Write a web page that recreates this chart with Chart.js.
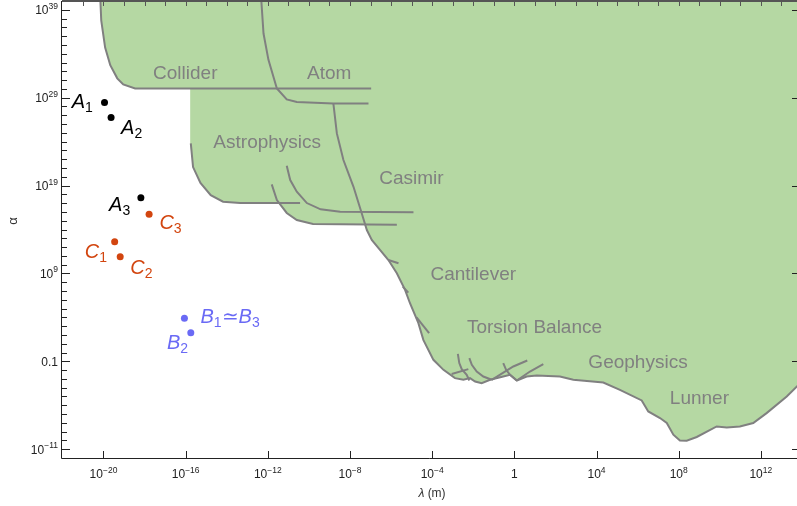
<!DOCTYPE html>
<html>
<head>
<meta charset="utf-8">
<title>Excluded region in the lambda-alpha plane</title>
<script src="https://cdn.jsdelivr.net/npm/chart.js@4.4.0/dist/chart.umd.min.js"></script>
<style>
    html, body { margin: 0; padding: 0; background: #fff; }
    #wrap { width: 797px; height: 506px; }
</style>
</head>
<body>
<div id="wrap"><canvas id="chart" width="797" height="506"></canvas></div>
<script>
// ---- model points (lambda in m, alpha) ----
const lambdaA = [1.12e-20, 2.34e-20, 6.6e-19];
const alphaA = [2.8e28, 5.6e26, 4.1e17];
const lambdaC = [3.5e-20, 6.5e-20, 1.66e-18];
const alphaC = [4.1e12, 8.1e10, 5.4e15];
const lambdaB = [8.7e-17, 1.78e-16];
const alphaB = [8.1e3, 174];

// ---- experimental bounds, pairs of [log10 lambda, log10 alpha] ----
const colliderCurve = [[-20.16, 40.5], [-20.11, 37.8], [-19.92, 34.7], [-19.67, 32.7], [-19.33, 31.2], [-19.04, 30.5], [-18.46, 30.05], [-6.97, 30.05]];
const atomCurve = [[-12.33, 40.5], [-12.21, 36.3], [-11.97, 33.3], [-11.56, 30.05], [-11.08, 28.8], [-10.59, 28.5], [-8.81, 28.34], [-7.1, 28.34]];
const astroCurve = [[-15.75, 23.8], [-15.64, 21.1], [-15.28, 19.3], [-14.78, 17.9], [-14.18, 17.16], [-13.35, 17.01], [-10.43, 17.01]];
const astroCurve2 = [[-11.81, 19.14], [-11.56, 17.35], [-11.08, 15.88], [-10.59, 15.08], [-9.8, 14.63], [-5.72, 14.55]];
const astroCurve3 = [[-11.08, 21.25], [-10.91, 19.63], [-10.59, 18.3], [-10.1, 17.01], [-9.43, 16.3], [-8.48, 16.02], [-4.91, 15.95]];
const mainCurve = [
    [-8.81, 28.34], [-8.64, 24.93], [-8.32, 21.9], [-7.83, 18.86], [-7.43, 15.84], [-7.18, 13.94], [-6.94, 12.81],
    [-6.54, 11.67], [-6.13, 10.53], [-5.72, 9.02], [-5.32, 7.13], [-5.08, 5.61], [-4.67, 3.34], [-4.43, 1.44],
    [-3.94, -0.83], [-3.45, -1.97], [-2.89, -2.91], [-2.48, -3.1], [-2.16, -2.91], [-1.91, -3.3], [-1.59, -3.48],
    [-1.18, -3.1], [-0.54, -2.73], [-0.21, -2.53], [0.12, -3.18], [0.6, -2.73], [1.09, -2.61], [2.22, -2.73],
    [2.87, -3.1], [4.33, -3.41], [5.14, -4.24], [6.2, -5.45], [6.52, -6.7], [7.09, -7.45], [7.42, -8.02],
    [7.74, -9.35], [8.06, -10.0], [8.39, -10.03], [8.88, -9.61], [9.85, -8.41], [10.34, -8.52], [10.98, -8.41],
    [11.63, -8.02], [12.28, -6.89], [13.26, -5.0], [14.2, -2.86]
];
const cantileverTicks = [
    [[-6.13, 10.53], [-5.64, 10.16]],
    [[-5.43, 7.5], [-5.16, 6.82]],
    [[-4.76, 4.0], [-4.15, 2.2]]
];
const torsionCurves = [
    [[-2.75, -0.15], [-2.68, -1.2], [-2.56, -1.89], [-2.32, -2.53], [-2.19, -3.18]],
    [[-3.05, -2.45], [-2.24, -1.89]],
    [[-2.19, -0.64], [-2.07, -1.4], [-1.83, -2.16], [-1.51, -2.73], [-1.1, -3.1]],
    [[-0.54, -1.2], [-0.4, -1.97], [-0.21, -2.53], [0.12, -3.18]],
    [[-1.1, -3.1], [-0.05, -1.59], [0.63, -0.91]],
    [[0.12, -3.18], [0.76, -2.16], [1.41, -1.32]]
];
// corners where the shaded area leaves the drawn curves
const regionLeftEdge = [
    [-20.16, 40.5], [-20.11, 37.8], [-19.92, 34.7], [-19.67, 32.7], [-19.33, 31.2], [-19.04, 30.5], [-18.46, 30.05],
    [-15.78, 30.05], [-15.78, 23.8], [-15.64, 21.1], [-15.28, 19.3], [-14.78, 17.9], [-14.18, 17.16], [-13.35, 17.01],
    [-11.5, 17.01], [-11.08, 15.88], [-10.59, 15.08], [-9.8, 14.63], [-7.26, 14.55]
];

// ---- region names and where they sit (log10 lambda, log10 alpha) ----
const regionNames = ['Collider', 'Atom', 'Astrophysics', 'Casimir', 'Cantilever', 'Torsion Balance', 'Geophysics', 'Lunner'];
const regionNameAt = [[-16.02, 31.18], [-9.01, 31.18], [-12.03, 23.23], [-5.01, 19.17], [-2.0, 8.26], [0.98, 2.2], [6.02, -1.77], [9.01, -5.86]];

// ---- tick marks ----
const xTickExps = [-20, -16, -12, -8, -4, 0, 4, 8, 12];
const xTickLabels = [['10', '\u221220'], ['10', '\u221216'], ['10', '\u221212'], ['10', '\u22128'], ['10', '\u22124'], ['1', ''], ['10', '4'], ['10', '8'], ['10', '12']];
const yTickExps = [-11, -1, 9, 19, 29, 39];
const yTickLabels = [['10', '\u221211'], ['0.1', ''], ['10', '9'], ['10', '19'], ['10', '29'], ['10', '39']];

const FONT = '"Liberation Sans", Arial, Helvetica, sans-serif';
const GREEN = '#b5d8a3';
const EDGE = '#808080';

const toXY = pts => pts.map(p => ({ x: Math.pow(10, p[0]), y: Math.pow(10, p[1]) }));
const zipXY = (xs, ys) => xs.map((v, i) => ({ x: v, y: ys[i] }));

function curve(pts) {
    return {
        data: toXY(pts),
        showLine: true,
        borderColor: EDGE,
        borderWidth: 2,
        pointRadius: 0,
        tension: 0,
        fill: false,
        order: 5
    };
}

function dots(xs, ys, color, labels) {
    return {
        data: zipXY(xs, ys),
        backgroundColor: color,
        borderWidth: 0,
        pointRadius: 3.5,
        showLine: false,
        order: 0,
        labelColor: color,
        pointLabels: labels
    };
}

// draws a label like A_1 : parts are [text, style], style i = italic, s = subscript, n = plain
function drawParts(ctx, parts, x, y, align) {
    const fontOf = st => st === 'i' ? 'italic 20px ' + FONT : st === 's' ? '14px ' + FONT : '20px ' + FONT;
    let total = 0;
    parts.forEach(([t, st]) => { ctx.font = fontOf(st); total += ctx.measureText(t).width; });
    let cx = align === 'right' ? x - total : x;
    ctx.textAlign = 'left';
    ctx.textBaseline = 'alphabetic';
    parts.forEach(([t, st]) => {
        ctx.font = fontOf(st);
        ctx.fillText(t, cx, st === 's' ? y + 4 : y);
        cx += ctx.measureText(t).width;
    });
}

// tick label with a raised exponent
function drawPower(ctx, base, exp, x, y, align) {
    ctx.font = '12px ' + FONT;
    const wb = ctx.measureText(base).width;
    ctx.font = '8.5px ' + FONT;
    const we = exp ? ctx.measureText(exp).width : 0;
    const w = wb + we;
    const x0 = align === 'right' ? x - w : x - w / 2;
    ctx.textAlign = 'left';
    ctx.textBaseline = 'alphabetic';
    ctx.font = '12px ' + FONT;
    ctx.fillText(base, x0, y);
    if (exp) {
        ctx.font = '8.5px ' + FONT;
        ctx.fillText(exp, x0 + wb, y - 5.5);
    }
}

const decorPlugin = {
    id: 'decor',
    afterDraw(chart) {
        const { ctx, chartArea: a, scales: { x, y } } = chart;
        ctx.save();

        // region names
        ctx.fillStyle = '#808080';
        ctx.font = '19px ' + FONT;
        ctx.textAlign = 'center';
        ctx.textBaseline = 'alphabetic';
        regionNames.forEach((name, i) => {
            const [lx, ly] = regionNameAt[i];
            ctx.fillText(name, x.getPixelForValue(Math.pow(10, lx)), y.getPixelForValue(Math.pow(10, ly)));
        });

        // point labels
        chart.data.datasets.forEach((ds, di) => {
            if (!ds.pointLabels) return;
            const meta = chart.getDatasetMeta(di);
            ctx.fillStyle = ds.labelColor;
            ds.pointLabels.forEach((lab, i) => {
                const el = meta.data[i];
                drawParts(ctx, lab.parts, el.x + lab.dx, el.y + lab.dy, lab.align);
            });
        });

        // frame
        ctx.strokeStyle = '#222';
        ctx.lineWidth = 1;
        ctx.beginPath();
        ctx.moveTo(a.left - 0.5, a.top);
        ctx.lineTo(a.left - 0.5, a.bottom + 0.5);
        ctx.lineTo(a.right, a.bottom + 0.5);
        ctx.stroke();
        ctx.strokeStyle = '#555';
        ctx.lineWidth = 2;
        ctx.beginPath();
        ctx.moveTo(a.left, a.top);
        ctx.lineTo(a.right, a.top);
        ctx.stroke();

        // ticks, pointing inward
        ctx.lineWidth = 1;
        ctx.strokeStyle = '#222';
        ctx.beginPath();
        for (let e = -11; e <= 39; e++) {
            const py = Math.round(y.getPixelForValue(Math.pow(10, e))) + 0.5;
            const len = yTickExps.includes(e) ? 8 : 5;
            ctx.moveTo(a.left, py);
            ctx.lineTo(a.left + len, py);
        }
        xTickExps.forEach(e => {
            const px = Math.round(x.getPixelForValue(Math.pow(10, e))) + 0.5;
            ctx.moveTo(px, a.bottom);
            ctx.lineTo(px, a.bottom - 7);
        });
        yTickExps.forEach(e => {
            const py = Math.round(y.getPixelForValue(Math.pow(10, e))) + 0.5;
            ctx.moveTo(a.right, py);
            ctx.lineTo(a.right - 5, py);
        });
        ctx.stroke();
        ctx.strokeStyle = '#555';
        ctx.beginPath();
        for (let e = -21; e <= 13; e++) {
            const px = Math.round(x.getPixelForValue(Math.pow(10, e))) + 0.5;
            ctx.moveTo(px, a.top);
            ctx.lineTo(px, a.top + 5);
        }
        ctx.stroke();

        // tick labels
        ctx.fillStyle = '#222';
        xTickExps.forEach((e, i) => {
            drawPower(ctx, xTickLabels[i][0], xTickLabels[i][1], x.getPixelForValue(Math.pow(10, e)), a.bottom + 20, 'center');
        });
        yTickExps.forEach((e, i) => {
            drawPower(ctx, yTickLabels[i][0], yTickLabels[i][1], a.left - 4, y.getPixelForValue(Math.pow(10, e)) + 4.5, 'right');
        });

        // axis titles
        ctx.fillStyle = '#333';
        ctx.save();
        ctx.translate(13, 221);
        ctx.rotate(-Math.PI / 2);
        ctx.font = '13px ' + FONT;
        ctx.textAlign = 'center';
        ctx.textBaseline = 'middle';
        ctx.fillText('\u03b1', 0, 0);
        ctx.restore();
        ctx.textBaseline = 'alphabetic';
        ctx.textAlign = 'left';
        ctx.font = 'italic 12px ' + FONT;
        const wl = ctx.measureText('\u03bb').width;
        ctx.font = '12px ' + FONT;
        const wr = ctx.measureText(' (m)').width;
        const cx = (a.left + a.right) / 2 + 2.5 - (wl + wr) / 2;
        ctx.font = 'italic 12px ' + FONT;
        ctx.fillText('\u03bb', cx, 497);
        ctx.font = '12px ' + FONT;
        ctx.fillText(' (m)', cx + wl, 497);

        ctx.restore();
    }
};

const region = {
    data: toXY(regionLeftEdge.concat(mainCurve.filter(p => p[1] < 14.5), [[14.2, 40.5]])),
    showLine: true,
    backgroundColor: GREEN,
    borderWidth: 0,
    pointRadius: 0,
    tension: 0,
    fill: 'shape',
    order: 10
};

const datasets = [
    region,
    curve(colliderCurve),
    curve(atomCurve),
    curve(astroCurve),
    curve(astroCurve2),
    curve(astroCurve3),
    curve(mainCurve),
    ...cantileverTicks.map(curve),
    ...torsionCurves.map(curve),
    dots(lambdaA, alphaA, '#000000', [
        { parts: [['A', 'i'], ['1', 's']], dx: -11.6, dy: 5, align: 'right' },
        { parts: [['A', 'i'], ['2', 's']], dx: 10, dy: 16.7, align: 'left' },
        { parts: [['A', 'i'], ['3', 's']], dx: -10.7, dy: 13, align: 'right' }
    ]),
    dots(lambdaC, alphaC, '#d2450f', [
        { parts: [['C', 'i'], ['1', 's']], dx: -7.6, dy: 16.3, align: 'right' },
        { parts: [['C', 'i'], ['2', 's']], dx: 10, dy: 17.8, align: 'left' },
        { parts: [['C', 'i'], ['3', 's']], dx: 10.3, dy: 15, align: 'left' }
    ]),
    dots(lambdaB, alphaB, '#6a6af5', [
        { parts: [['B', 'i'], ['1', 's'], ['\u2243', 'n'], ['B', 'i'], ['3', 's']], dx: 16, dy: 4.4, align: 'left' },
        { parts: [['B', 'i'], ['2', 's']], dx: -2.7, dy: 15.7, align: 'right' }
    ])
];

new Chart(document.getElementById('chart'), {
    type: 'scatter',
    data: { datasets },
    options: {
        responsive: false,
        animation: false,
        events: [],
        layout: { autoPadding: false, padding: { top: 1, right: 0, bottom: 0, left: 0 } },
        plugins: { legend: { display: false }, tooltip: { enabled: false } },
        scales: {
            x: {
                type: 'logarithmic',
                position: 'bottom',
                min: Math.pow(10, -22.02),
                max: Math.pow(10, 13.76),
                grid: { display: false },
                border: { display: false },
                ticks: { display: false },
                afterFit: s => { s.height = 48; }
            },
            y: {
                type: 'logarithmic',
                position: 'left',
                min: 1e-12,
                max: 1e40,
                grid: { display: false },
                border: { display: false },
                ticks: { display: false },
                afterFit: s => { s.width = 62; }
            }
        }
    },
    plugins: [decorPlugin]
});
</script>
</body>
</html>
